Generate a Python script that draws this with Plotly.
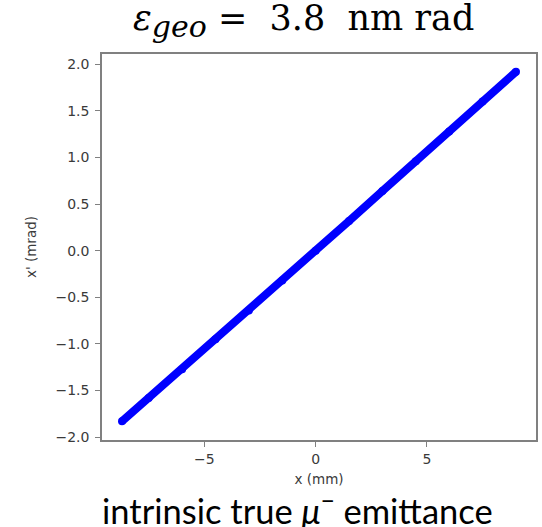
import plotly.graph_objects as go

# Points read along the phase-space band (x in mm, x' in mrad)
x_mm = [-8.7, -7.5, -6.0, -4.5, -3.0, -1.5, 0.0, 1.5, 3.0, 4.5, 6.0, 7.5, 9.0]
xp_mrad = [-1.83, -1.58, -1.27, -0.95, -0.64, -0.32, 0.0, 0.32, 0.64, 0.96, 1.28, 1.60, 1.92]

x_ticks = [-5, 0, 5]
y_ticks = [-2.0, -1.5, -1.0, -0.5, 0.0, 0.5, 1.0, 1.5, 2.0]
y_ticktext = ["\u22122.0", "\u22121.5", "\u22121.0", "\u22120.5", "0.0", "0.5", "1.0", "1.5", "2.0"]
x_ticktext = ["\u22125", "0", "5"]

fig = go.Figure()
fig.add_trace(go.Scatter(
    x=x_mm, y=xp_mrad, mode="lines+markers",
    line=dict(color="#0000ff", width=8),
    marker=dict(color="#0000ff", size=8),
    showlegend=False, hoverinfo="skip",
))

axis_common = dict(
    showline=True, mirror=True, linecolor="#808080", linewidth=1.5,
    ticks="outside", ticklen=5, tickwidth=1.2, tickcolor="#808080",
    showgrid=False, zeroline=False,
    tickfont=dict(family="DejaVu Sans", size=14, color="#3a3a3a"),
)

fig.update_xaxes(
    range=[-9.6, 9.9], tickvals=x_ticks, ticktext=x_ticktext,
    title=dict(text="x (mm)", font=dict(family="DejaVu Sans", size=13.5, color="#3a3a3a"), standoff=9),
    **axis_common,
)
fig.update_yaxes(
    range=[-2.03, 2.11], tickvals=y_ticks, ticktext=y_ticktext,
    title=dict(text="x' (mrad)", font=dict(family="DejaVu Sans", size=13.5, color="#3a3a3a"), standoff=16),
    ticklabelstandoff=3,
    **axis_common,
)

fig.update_layout(
    width=542, height=527,
    margin=dict(l=102, r=4, t=54, b=87),
    paper_bgcolor="white", plot_bgcolor="white",
    annotations=[
        dict(
            text=("<i>\u03b5</i><sub><i><span style='font-size:30px'>geo</span></i></sub>"
                  "&nbsp;=&nbsp;&nbsp;3.8&nbsp;&nbsp;nm&nbsp;rad"),
            xref="paper", yref="paper", x=0.465, y=1.0, yshift=33,
            xanchor="center", yanchor="middle", showarrow=False,
            font=dict(family="DejaVu Serif", size=35, color="black"),
        ),
        dict(
            text="intrinsic true <i>\u03bc</i><sup>\u2212</sup> emittance",
            xref="paper", yref="paper", x=0.45, y=0.0, yshift=-68,
            xanchor="center", yanchor="middle", showarrow=False,
            font=dict(family="Lato", size=34.5, color="black"),
        ),
    ],
)

fig.write_html(
    "out.html",
    config={"displayModeBar": False},
    post_script="document.body.style.margin='0';document.body.style.overflow='hidden';",
)
